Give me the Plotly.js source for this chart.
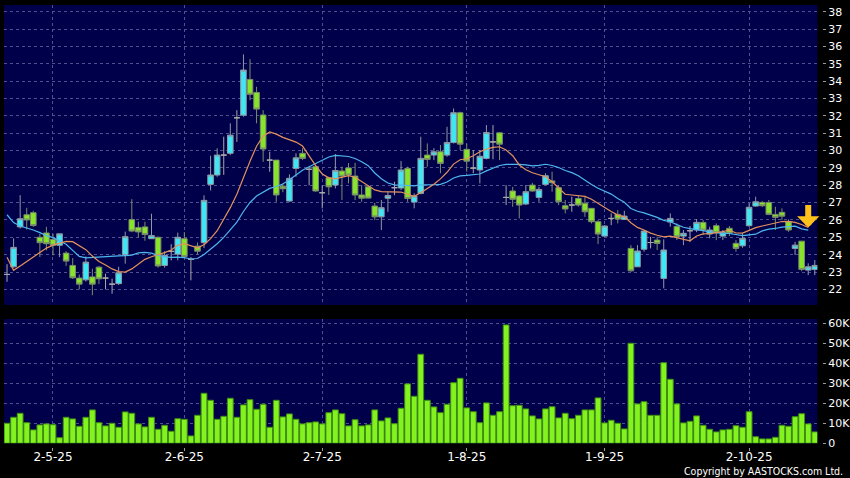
<!DOCTYPE html>
<html><head><meta charset="utf-8">
<script src="https://cdn.plot.ly/plotly-3.0.1.min.js"></script>
<style>html,body{margin:0;padding:0;background:#000;}#chart{width:850px;height:478px;}</style>
</head><body><div id="chart"></div>
<script>
const dates = [
'2025-04-22','2025-04-23','2025-04-24','2025-04-25','2025-04-28','2025-04-29','2025-04-30',
'2025-05-02','2025-05-06','2025-05-07','2025-05-08','2025-05-09','2025-05-12','2025-05-13','2025-05-14','2025-05-15','2025-05-16',
'2025-05-19','2025-05-20','2025-05-21','2025-05-22','2025-05-23','2025-05-26','2025-05-27','2025-05-28','2025-05-29','2025-05-30',
'2025-06-02','2025-06-03','2025-06-04','2025-06-05','2025-06-06','2025-06-09','2025-06-10','2025-06-11','2025-06-12','2025-06-13',
'2025-06-16','2025-06-17','2025-06-18','2025-06-19','2025-06-20','2025-06-23','2025-06-24','2025-06-25','2025-06-26','2025-06-27','2025-06-30',
'2025-07-02','2025-07-03','2025-07-04','2025-07-07','2025-07-08','2025-07-09','2025-07-10','2025-07-11','2025-07-14','2025-07-15',
'2025-07-16','2025-07-17','2025-07-18','2025-07-21','2025-07-22','2025-07-23','2025-07-24','2025-07-25','2025-07-28','2025-07-29','2025-07-30','2025-07-31',
'2025-08-01','2025-08-04','2025-08-05','2025-08-06','2025-08-07','2025-08-08','2025-08-11','2025-08-12','2025-08-13','2025-08-14','2025-08-15',
'2025-08-18','2025-08-19','2025-08-20','2025-08-21','2025-08-22','2025-08-25','2025-08-26','2025-08-27','2025-08-28','2025-08-29',
'2025-09-01','2025-09-02','2025-09-03','2025-09-04','2025-09-05','2025-09-08','2025-09-09','2025-09-10','2025-09-11','2025-09-12',
'2025-09-15','2025-09-16','2025-09-17','2025-09-18','2025-09-19','2025-09-22','2025-09-23','2025-09-24','2025-09-25','2025-09-26','2025-09-29','2025-09-30',
'2025-10-02','2025-10-03','2025-10-06','2025-10-08','2025-10-09','2025-10-10','2025-10-13','2025-10-14','2025-10-15','2025-10-16','2025-10-17'];

const opens = [22.86,23.3,25.6,26.3,26.42,25.0,25.25,24.87,24.54,24.09,
23.38,22.65,22.55,22.72,23.28,22.65,22.3,22.33,24.0,26.02,
25.56,25.6,24.92,25.0,23.38,24.19,24.03,24.92,23.73,24.49,
24.69,28.05,28.59,29.74,29.84,31.89,32.04,34.1,33.35,32.05,
29.45,29.45,27.95,27.09,28.97,29.84,28.92,29.07,27.57,28.43,
28.01,28.82,29.0,28.53,27.44,27.91,26.8,26.18,27.25,27.86,
27.84,28.97,27.03,27.53,29.74,29.74,29.93,29.74,30.46,32.18,
30.07,28.99,28.88,29.55,30.5,31.02,27.3,27.67,27.38,26.92,
28.01,27.3,28.05,28.25,27.86,26.82,26.86,27.24,26.96,26.67,
25.9,25.07,26.09,26.32,26.03,24.36,23.3,24.31,24.7,24.84,
22.63,25.88,25.62,25.07,25.38,25.42,25.86,25.19,25.67,25.07,
25.52,24.65,24.51,25.67,26.8,27.01,27.01,26.32,26.44,25.9,
24.36,24.78,23.11,23.15];

const highs = [23.45,24.94,27.43,26.7,26.53,25.2,25.6,25.2,25.2,24.2,
23.8,22.85,23.9,23.19,23.35,22.9,22.62,23.3,25.33,27.2,
25.9,25.9,26.36,25.05,24.2,24.6,25.27,25.3,23.86,24.7,
27.42,29.7,30.13,30.8,31.57,32.33,35.54,35.27,33.68,32.33,
29.93,29.45,28.1,28.63,29.84,30.13,29.07,29.12,28.0,28.49,
29.8,29.07,29.28,29.3,28.0,28.0,26.99,27.15,27.63,28.2,
29.4,29.07,27.53,30.8,30.41,30.14,30.32,31.37,32.43,32.24,
30.41,30.03,30.03,31.47,31.47,31.06,28.0,27.91,27.43,28.01,
28.14,27.91,28.69,28.78,28.01,27.15,27.34,27.38,27.34,26.67,
25.99,25.7,26.38,26.57,26.53,24.55,24.55,25.42,25.03,25.03,
24.88,26.38,25.8,25.42,25.65,26.05,25.99,25.61,25.8,25.42,
25.65,24.84,25.24,26.96,27.34,27.09,27.15,26.76,26.67,26.03,
24.74,24.78,23.5,23.69];

const lows = [22.44,23.25,25.5,25.45,25.6,23.86,24.25,23.96,23.86,23.35,
22.6,22.0,22.45,21.66,22.3,22.0,21.75,22.25,23.48,25.3,
25.0,24.8,24.92,23.25,23.25,23.67,23.67,23.8,22.52,24.0,
24.38,27.7,28.49,28.6,29.74,30.5,31.95,32.9,31.57,29.35,
28.78,27.05,27.6,27.05,28.49,29.45,28.0,27.63,26.67,27.44,
27.82,27.15,28.11,27.15,27.05,27.25,25.99,25.42,26.47,27.43,
27.72,27.05,26.67,27.49,29.07,29.45,28.69,29.64,30.41,30.03,
28.78,28.69,28.11,29.49,29.5,29.45,26.86,26.76,26.09,26.86,
27.63,27.05,28.01,27.63,26.86,26.38,26.47,26.76,26.18,25.8,
24.61,25.03,25.7,25.8,25.99,23.01,23.3,24.17,24.36,24.27,
22.06,25.61,24.84,24.55,24.74,25.3,25.13,24.94,24.84,24.84,
25.07,24.17,24.4,25.61,26.76,26.74,26.28,25.42,25.99,25.32,
23.98,23.05,22.82,22.82];

const closes = [22.86,24.42,26.07,26.0,25.68,24.69,24.63,24.54,25.2,23.63,
22.67,22.3,23.57,22.3,22.61,22.65,22.3,22.96,25.04,25.36,
25.31,25.16,25.1,23.35,23.96,24.19,25.0,23.9,23.73,24.2,
27.13,28.59,29.74,29.74,30.89,31.89,34.64,33.24,32.39,30.09,
29.45,27.44,27.8,28.4,29.58,29.55,28.92,27.67,27.57,27.91,
28.85,28.53,28.59,27.44,27.25,27.26,26.18,26.71,27.41,27.86,
28.88,27.24,27.38,29.55,29.49,29.93,29.26,30.46,32.18,30.37,
29.39,28.99,29.67,31.04,30.5,30.37,27.3,27.19,26.86,27.63,
27.67,27.76,28.55,28.15,27.05,26.63,26.86,26.86,26.47,25.9,
25.19,25.65,26.09,26.05,26.22,23.07,24.21,25.36,24.7,24.65,
24.27,26.09,25.03,25.23,25.38,25.86,25.42,25.42,25.26,25.29,
25.23,24.36,24.94,26.73,27.05,26.82,26.32,26.15,26.22,25.42,
24.55,23.15,23.3,23.38];

const volumeK = [10,13,15,10.3,6.7,9.2,9.7,9.3,2.8,13,
12.2,8.5,13,16.7,10.3,8.7,10,8,15.7,15,
9.7,8.2,13,7,9,6,12.3,12,3.7,14,
25,21.5,12,13.5,22.5,13,19.2,21.8,17,19.5,
8,21.5,13.2,14.7,12,9.7,10.3,10.7,9.7,15.3,
16.7,14.8,8.7,11.8,8.7,9.2,16.7,11.2,12.7,9.8,
17.5,29.7,23.5,44.5,21.5,18.2,15.3,19.5,30.3,32.5,
17.7,15.8,10.3,20.2,14,15.8,59.2,18.8,19,17.2,
13.7,12.2,17.2,18.3,12.7,15,12.3,14,16.7,16.7,
22.7,10.2,11.5,10,7.2,50,19.7,20.8,14,14,
40.3,32,19.7,10.2,11,13.7,9,7,5.7,6.7,
7,8.8,8,15.8,3.3,2.2,2.2,3,9,8.5,
13.3,14.8,9.7,5.7];

const ma10 = [23.85,23.1,23.35,23.6,23.88,24.15,24.38,24.55,24.68,24.77,
24.75,24.54,24.29,23.92,23.61,23.41,23.18,23.02,23.0,23.18,
23.44,23.73,23.88,23.98,24.12,24.27,24.54,24.64,24.51,24.39,
24.57,24.92,25.38,26.02,26.71,27.48,28.45,29.38,30.25,30.83,
31.07,30.95,30.76,30.62,30.49,30.26,29.69,29.13,28.65,28.43,
28.37,28.48,28.56,28.46,28.23,28.0,27.73,27.63,27.61,27.61,
27.61,27.48,27.36,27.57,27.8,28.06,28.37,28.75,29.22,29.47,
29.53,29.7,29.93,30.08,30.18,30.22,30.03,29.7,29.17,28.89,
28.72,28.6,28.49,28.2,27.85,27.48,27.44,27.4,27.36,27.19,
26.94,26.73,26.49,26.28,26.19,25.84,25.57,25.42,25.24,25.12,
25.03,25.07,24.97,24.88,24.8,25.08,25.2,25.21,25.26,25.33,
25.42,25.25,25.24,25.39,25.56,25.65,25.74,25.82,25.91,25.92,
25.86,25.74,25.57,null];

const ma20 = [26.3,25.85,25.65,25.55,25.42,25.27,25.1,24.98,24.8,24.6,
24.25,23.9,23.82,23.85,23.88,23.9,23.91,23.93,23.95,23.97,
24.1,24.13,24.09,23.95,23.87,23.84,23.86,23.83,23.75,23.78,
24.01,24.32,24.63,25.0,25.42,25.88,26.49,27.01,27.38,27.61,
27.82,27.93,28.07,28.32,28.6,28.87,29.07,29.25,29.45,29.63,
29.72,29.71,29.66,29.54,29.36,29.13,28.71,28.38,28.13,28.02,
27.99,27.98,27.96,28.02,28.01,28.03,28.05,28.19,28.42,28.54,
28.57,28.59,28.65,28.83,28.99,29.14,29.2,29.22,29.2,29.18,
29.12,29.15,29.21,29.14,29.02,28.85,28.73,28.55,28.27,28.04,
27.83,27.67,27.49,27.24,27.02,26.66,26.5,26.41,26.3,26.15,
25.98,25.9,25.73,25.58,25.5,25.46,25.39,25.31,25.25,25.22,
25.22,25.16,25.1,25.14,25.18,25.37,25.47,25.51,25.59,25.62,
25.64,25.49,25.41,null];

const tickDates = ['2025-05-02','2025-06-02','2025-07-02','2025-08-01','2025-09-01','2025-10-02'];
const tickLabels = ['2-5-25','2-6-25','2-7-25','1-8-25','1-9-25','2-10-25'];
const volTicks = [0,10,20,30,40,50,60];
const volTickLabels = ['0','10K','20K','30K','40K','50K','60K'];

const idx = dates.map((d, i) => i);
const upIdx = idx.filter(i => closes[i] > opens[i]);
const downIdx = idx.filter(i => closes[i] < opens[i]);
const flatIdx = idx.filter(i => closes[i] === opens[i]);

function candle(sel, fill, line) {
  const style = {fillcolor: fill, line: {color: line, width: 1}};
  return {
    type: 'candlestick', xaxis: 'x', yaxis: 'y',
    x: sel.map(i => dates[i]), open: sel.map(i => opens[i]), high: sel.map(i => highs[i]),
    low: sel.map(i => lows[i]), close: sel.map(i => closes[i]),
    increasing: style, decreasing: style, whiskerwidth: 0,
    hoverinfo: 'skip', showlegend: false
  };
}

const grid = '#50508E';
const traces = [
  {type: 'bar', x: dates, y: volumeK, xaxis: 'x', yaxis: 'y2',
   marker: {color: '#84F21E', line: {color: '#3E8E14', width: 1}}, hoverinfo: 'skip'},
  {type: 'scatter', mode: 'lines', x: dates, y: ma20, xaxis: 'x', yaxis: 'y',
   line: {color: '#4DB6EE', width: 1.2}, hoverinfo: 'skip'},
  {type: 'scatter', mode: 'lines', x: dates, y: ma10, xaxis: 'x', yaxis: 'y',
   line: {color: '#E3925C', width: 1.2}, hoverinfo: 'skip'},
  candle(upIdx, '#3FE6F4', '#8E9AA4'),
  candle(downIdx, '#88E42A', '#7A8E6A'),
  candle(flatIdx, '#A0A0A0', '#A8A8A8')
];

const layout = {
  width: 850, height: 478,
  margin: {l: 4, r: 28, t: 5, b: 31},
  paper_bgcolor: '#000000', plot_bgcolor: '#00004A',
  showlegend: false, bargap: 0.12, boxmode: 'overlay', boxgap: 0.15, boxgroupgap: 0,
  font: {family: 'DejaVu Sans, Liberation Sans, sans-serif', color: '#FFFFFF', size: 11},
  xaxis: {type: 'category', categoryorder: 'array', categoryarray: dates,
    domain: [0, 0.9943], range: [-0.46, 123.39], anchor: 'free', position: 0,
    tickvals: tickDates, ticktext: tickLabels, ticks: 'outside', ticklen: 3, tickcolor: '#9A9A9A',
    ticklabelstandoff: -4,
    showgrid: true, gridcolor: grid, griddash: '3px,3px', gridwidth: 1,
    showline: false, zeroline: false, rangeslider: {visible: false},
    tickfont: {size: 12, color: '#FFFFFF'}, fixedrange: true},
  yaxis: {domain: [0.3213, 1], range: [21.1, 38.39], anchor: 'free', position: 1, side: 'right',
    tick0: 22, dtick: 1, ticks: 'outside', ticklen: 3, tickcolor: '#9A9A9A',
    showgrid: true, gridcolor: grid, griddash: '3px,3px', gridwidth: 1,
    showline: false, zeroline: false, tickfont: {size: 11, color: '#FFFFFF'}, fixedrange: true},
  yaxis2: {domain: [0.0084, 0.2896], range: [0, 62.15], anchor: 'free', position: 1, side: 'right',
    tickvals: volTicks, ticktext: volTickLabels, ticks: 'outside', ticklen: 3, tickcolor: '#9A9A9A',
    showgrid: true, gridcolor: grid, griddash: '3px,3px', gridwidth: 1,
    showline: false, zeroline: false, tickfont: {size: 11, color: '#FFFFFF'}, fixedrange: true},
  annotations: [
    {text: 'Copyright by AASTOCKS.com Ltd.', xref: 'paper', yref: 'paper', x: 1.0281, y: -0.054,
     xanchor: 'right', yanchor: 'middle', showarrow: false,
     font: {family: 'DejaVu Sans Condensed, Liberation Sans Narrow, Liberation Sans, sans-serif', size: 10.5, color: '#FFFFFF'}},
    {text: '', xref: 'x', yref: 'y', x: dates[122], y: ma10[122], ax: 0, ay: -24,
     showarrow: true, arrowhead: 1, arrowsize: 0.62, arrowwidth: 6, arrowcolor: '#FFC21A', standoff: 0}
  ]
};

Plotly.newPlot('chart', traces, layout, {displayModeBar: false, staticPlot: true});
</script>
</body></html>
